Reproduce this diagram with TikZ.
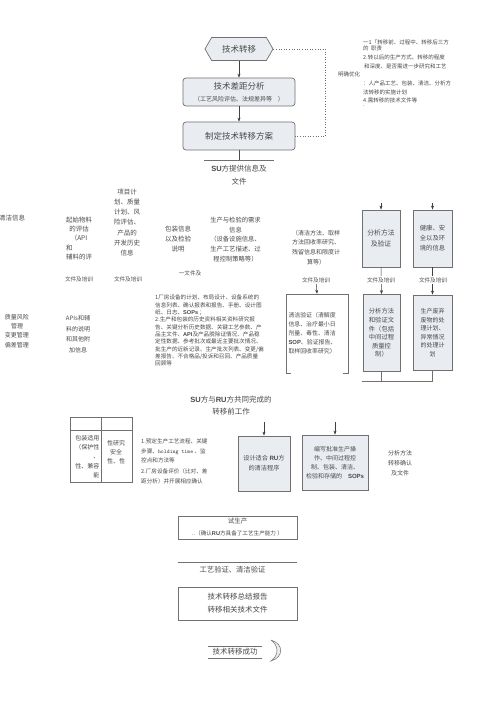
\documentclass[tikz,border=0pt]{standalone}
\usepackage{fontspec}
\setmainfont{Noto Sans CJK SC}
\newfontfamily\lat{Liberation Sans}
\usetikzlibrary{shapes.symbols,arrows.meta}
\definecolor{txtc}{HTML}{4A4A4A}
\definecolor{bordc}{HTML}{707070}
\definecolor{boxf}{HTML}{E9EDF2}
\newcommand{\fsz}[2]{\fontsize{#1}{#2}\selectfont}
\newcommand{\bl}[1]{{\lat\bfseries #1}}
\begin{document}
\begin{tikzpicture}[x=1pt,y=-1pt,
  every node/.style={text=txtc, inner sep=0pt},
  t/.style={align=center, font=\fsz{6.5}{10}},
  sm/.style={align=center, font=\fsz{5.6}{7}},
  rbox/.style={draw=bordc, fill=boxf, line width=0.7pt, rounded corners=3pt, align=center},
  gbox/.style={draw=bordc, fill=boxf, line width=0.8pt, align=center},
  wbox/.style={draw=bordc, fill=white, line width=0.6pt, align=center},
  arr/.style={-{Stealth[length=4pt,width=3pt]}, draw=black!75, line width=0.5pt},
  ln/.style={draw=bordc, line width=0.6pt},
  lbl/.style={sm, fill=white, inner sep=1pt}
]
\useasboundingbox[fill=white] (0,0) rectangle (500,708);

% ---------- top ----------
\node[signal, signal to=west and east, signal pointer angle=120, draw=bordc, fill=boxf,
  line width=0.7pt, minimum width=68pt, minimum height=23pt, font=\fsz{8.5}{10}] (hex) at (239,49) {技术转移};
\node[rbox, minimum width=112pt, minimum height=28pt] (gap) at (239,92)
  {{\fsz{8.5}{11}技术差距分析}\\{\fsz{6}{9}（工艺风险评估、法规差异等\quad ）}};
\node[rbox, minimum width=112pt, minimum height=28pt, font=\fsz{8.5}{10}] (plan) at (239,136) {制定技术转移方案};
\draw[arr] (hex.south) -- (gap.north);
\draw[arr] (gap.south) -- (plan.north);
\draw[ln, dotted, line width=0.8pt] (hex.east) -- ++(52,0) |- (plan.east);
\coordinate (pj) at (239,160);
\draw[ln, draw=black!70] (plan.south) -- (pj);
\draw[ln] (204,160) -- (274,160);

% right notes
\begin{scope}[every node/.style={text=txtc, inner sep=0pt, anchor=west, font=\fsz{5.5}{7}}]
\node (n1) at (363,42) {一1「转移前、过程中、转移后三方};
\node (n2) at (363,48.5) {的\ \ 职责};
\node (n3) at (363,57) {2.转以后的生产方式、转移的程度};
\node (n4) at (364,66) {和深度、是否需进一步研究和工艺};
\node (n5) at (338,74.5) {明确优化};
\node (n6) at (363,83) {：人产品工艺、包装、清洁、分析方};
\node (n7) at (363,92) {法转移的实施计划};
\node (n8) at (363,100) {4.需转移的技术文件等};
\node (n9) at (363,106) {.};
\end{scope}

\node[align=center, font=\fsz{7.5}{13}] (su) at (239,175) {\bl{SU}方提供信息及\\文件};

% ---------- row 1 ----------
\node[t, anchor=west] (clean1) at (-1,218) {清洁信息};
\node[t, font=\fsz{6.5}{9.3}] (start) at (79,238.5) {起始物料\\的评估\\（API\\\makebox[26pt][l]{和}\\辅料的评};
\node[t, font=\fsz{6.5}{10.2}] (proj) at (127,222.5) {项目计\\划、质量\\计划、风\\险评估、\\产品的\\开发历史\\信息};
\node[t] (pack) at (178,239) {包装信息\\以及检验\\说明};
\node[t, font=\fsz{6.3}{9.7}] (prodreq) at (235.5,239.5) {生产与检验的需求\\信息\\（设备设施信息、\\生产工艺描述、过\\程控制策略等）};
\node[t, font=\fsz{6}{9.7}] (cleanm) at (316,247.5) {（清洁方法、取样\\方法回收率研究、\\残留信息和限度计\\算等）};
\node[gbox, minimum width=38pt, minimum height=57pt, font=\fsz{6.8}{10.5}] (anal) at (381,238.5) {分析方法\\及验证};
\node[gbox, minimum width=39pt, minimum height=57pt, font=\fsz{6.3}{10}] (hse) at (432.5,238.5) {健康、安\\全以及环\\境的信息};
\coordinate (a1) at (381,203);
\coordinate (a2) at (432.5,203);
\draw[arr] (a1) -- (anal.north);
\draw[arr] (a2) -- (hse.north);

% labels
\node[sm] (fl1) at (79,279) {文件及培训};
\node[sm] (fl2) at (128,279) {文件及培训};
\node[sm] (fl3) at (190,273) {一文件及};
\node[lbl] (fl4) at (316,280) {文件及培训};

% ---------- row 2 ----------
\node[t, font=\fsz{6}{9.3}] (qrm) at (17,331) {质量风险\\管理\\变更管理\\偏差管理};
\node[t, font=\fsz{6}{10.5}] (apis) at (78,334) {APIs和辅\\料的说明\\和其他附\\加信息};
\node[align=left, anchor=north west, font=\fsz{5.6}{7.3}] (longt) at (155,295) {1厂房设备的计划、布局设计、设备系统的\\信息列表、确认报表和报告、手册、设计图\\纸、日志、\bl{SOPs} ；\\2.生产和包装的历史资料相关资料研究报\\告、关键分析历史数据、关键工艺参数、产\\品主文件、\bl{API}及产品脱除证情况、产品稳\\定性数据、参考批次或最近主要批次情况、\\批生产的近新记录、生产批次列表、变更/偏\\差报告、不合格品/投诉和召回、产品质量\\回顾等};

\node[minimum width=62pt, minimum height=79pt, text width=57pt, align=left, font=\fsz{5.9}{9}] (cv) at (317,333.5)
  {清洁验证（清解度\\信息、治疗最小日\\剂量、毒性、清洁\\\bl{SOP}、验证报告、\\取样回收率研究）};
\draw[ln] ([xshift=5pt]cv.south west) -- (cv.south west) -- (cv.north west) -- (cv.north east) -- (cv.south east) -- ([xshift=-5pt]cv.south east);
\draw[arr] (fl4) -- (cv.north);

\node[gbox, minimum width=37pt, minimum height=77pt, font=\fsz{6.3}{8.6}] (anal2) at (381.5,333) {分析方法\\和验证文\\件（包括\\中间过程\\质量控\\制）};
\node[gbox, minimum width=39pt, minimum height=75pt, font=\fsz{6}{8.5}] (waste) at (432.5,332.5) {生产废弃\\废物的处\\理计划、\\异常情况\\的处理计\\划};
\draw[arr] (anal.south) -- (anal2.north);
\draw[arr] (hse.south) -- (waste.north);
\node[lbl] (fl5) at (381,280) {文件及培训};
\node[lbl] (fl6) at (433,280) {文件及培训};

\coordinate (j1) at (381.5,381);
\coordinate (j2) at (432.5,381);
\coordinate (j0) at (362,381);
\draw[ln] (anal2.south) -- (j1);
\draw[ln] (waste.south) -- (j2);
\draw[ln] (j0) -- (j2);

% ---------- middle title ----------
\node[align=center, font=\fsz{7.5}{12}] (joint) at (231,406) {\bl{SU}方与\bl{RU}方共同完成的\\转移前工作};

% ---------- row 3 ----------
\node[wbox, minimum width=62pt, minimum height=65pt] (tbl) at (101,449.5) {};
\draw[ln] (tbl.north) -- (tbl.south);
\draw[ln] (70,430) -- (132,430);
\node[t, font=\fsz{6}{9.3}, align=right, anchor=north east] (tl) at (99.5,435) {包装适用\\（保护性\\、\\性、兼容\\能};
\node[t, font=\fsz{6}{9.2}] (tr) at (116,452) {性研究\\安全\\性、性};

\node[align=left, anchor=north west, font=\fsz{5.6}{9.5}] (steps) at (141,439) {1.预定生产工艺流程、关键\\步骤、\textbf{\ttfamily holding time} 、监\\控点和方法等\\[1.5pt]2.厂房设备评价（比对、差\\距分析）并开展相应确认};

\node[gbox, minimum width=52pt, minimum height=55pt, font=\fsz{6.2}{10}] (rucl) at (264,463.5) {设计适合 \bl{RU}方\\的清洁程序};
\node[gbox, minimum width=66pt, minimum height=55pt, font=\fsz{6}{9}] (sops) at (335,462.5) {编写批准生产操\\作、中间过程控\\制、包装、清洁、\\检验和存储的\quad \bl{SOPs}};
\coordinate (a3) at (264,422);
\coordinate (a4) at (335,422);
\draw[arr] (a3) -- (rucl.north);
\draw[arr] (a4) -- (sops.north);
\node[t, font=\fsz{6}{9.8}] (antx) at (400,463) {分析方法\\转移确认\\及文件};

% ---------- bottom ----------
\node[wbox, minimum width=119pt, minimum height=23pt] (trial) at (237.5,527.5)
  {{\fsz{6.5}{11}试生产}\\{\fsz{5.6}{7}..（确认\bl{RU}方具备了工艺生产能力 ）}};
\node[minimum width=119pt, minimum height=16pt, font=\fsz{7.3}{9}] (pv) at (237.5,570) {\hspace*{-10pt}工艺验证、清洁验证};
\draw[ln] (pv.north west) -- (pv.north east);
\node[wbox, minimum width=119pt, minimum height=33pt, font=\fsz{7.5}{13}] (rep) at (237.5,603.5) {技术转移总结报告\\转移相关技术文件};
\node[minimum width=54pt, minimum height=12pt, font=\fsz{7.5}{9}] (succ) at (235,652) {技术转移成功};
\draw[ln] (succ.north west) -- (succ.north east);
\draw[ln] (succ.south west) -- (succ.south east);
\draw[bordc, fill=boxf, line width=0.5pt] (271,640) .. controls (284,644) and (284,657) .. (271,661) .. controls (279,655) and (279,646) .. (271,640);
\end{tikzpicture}
\end{document}
